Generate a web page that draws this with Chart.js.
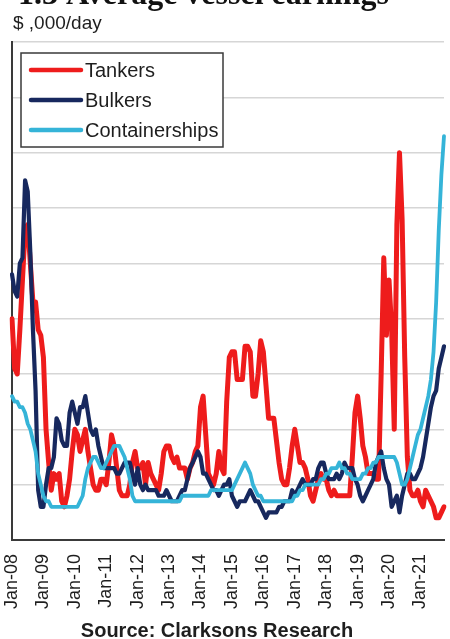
<!DOCTYPE html>
<html>
<head>
<meta charset="utf-8">
<script src="https://cdn.jsdelivr.net/npm/chart.js@4.4.1/dist/chart.umd.min.js"></script>
<style>
  html, body { margin: 0; padding: 0; background: #ffffff; }
  #wrap { position: relative; width: 450px; height: 639px; }
</style>
</head>
<body>
<div id="wrap"><canvas id="c" width="450" height="639"></canvas></div>
<script>
// Monthly average earnings, $ ,000/day, Jan 2008 onwards
const startYear = 2008;
const monthNames = ['Jan','Feb','Mar','Apr','May','Jun','Jul','Aug','Sep','Oct','Nov','Dec'];
const yearTicks = ['Jan-08','Jan-09','Jan-10','Jan-11','Jan-12','Jan-13','Jan-14','Jan-15','Jan-16','Jan-17','Jan-18','Jan-19','Jan-20','Jan-21'];

const tankers = [
  40,31,30,38,47,56,57,50,43,43, 38,37,33,20,14,9,12,11,12,7,
  6,8,11,16,20,19,16,18,20,16, 13,10,9,9,11,11,10,14,19,17,
  13,9,8,8,8,10,14,16,13,13, 14,10,14,12,11,10,9,12,16,17,
  17,15,14,15,13,13,13,11,13,14, 16,17,24,26,19,12,11,10,12,16,
  13,12,25,33,34,34,29,29,29,35, 35,34,26,26,30,36,34,28,22,22,
  22,18,14,11,10,10,13,17,20,17, 14,14,13,11,8,7,9,11,12,11,
  11,9,8,9,8,8,8,8,8,8, 15,23,26,22,17,15,12,12,12,11,
  11,30,51,37,47,38,20,57,70,58, 33,15,9,8,8,9,7,6,9,8,
  7,6,4,4,5,6
];
const bulkers = [
  48,45,44,50,51,65,63,52,38,27, 9,6,6,10,13,13,15,22,21,18,
  17,17,23,25,23,21,24,24,26,23, 20,19,20,17,15,13,13,13,13,13,
  12,12,13,14,14,14,12,10,13,10, 9,10,9,9,9,9,8,8,8,9,
  8,7,7,7,8,9,9,11,13,14, 15,16,15,12,12,11,10,9,9,8,
  9,10,10,11,8,7,6,7,7,7, 8,9,8,7,7,6,5,4,5,5,
  5,5,6,6,7,7,7,9,8,9, 10,11,10,10,10,11,11,13,14,14,
  12,11,11,11,12,11,12,14,13,13, 13,11,10,8,7,8,9,10,11,14,
  15,16,13,11,10,6,7,8,5,8, 10,12,12,11,11,12,13,15,18,21,
  24,26,27,31,33,35
];
const containerships = [
  26,25,25,24,24,23,21,20,18,16, 12,10,8,7,7,6,6,6,6,6,
  6,6,6,6,6,6,7,8,11,13, 14,15,15,14,13,13,14,15,16,17,
  17,17,16,15,13,11,8,7,7,7, 7,7,7,7,7,7,7,7,7,7,
  7,7,7,7,7,8,8,8,8,8, 8,8,8,8,8,8,9,9,9,9,
  9,9,9,9,9,10,11,12,13,14, 13,12,10,9,8,8,7,7,7,7,
  7,7,7,7,7,7,7,7,8,8, 9,9,10,10,10,10,10,10,11,11,
  12,12,13,13,13,14,13,13,12,12, 11,11,11,11,12,12,13,13,14,14,
  15,15,15,15,15,15,15,14,12,10, 10,11,13,15,17,19,20,22,24,26,
  29,34,43,56,66,73
];

// Month labels for the category axis
const months = tankers.map((_, i) =>
  monthNames[i % 12] + '-' + String((startYear + Math.floor(i / 12)) % 100).padStart(2, '0'));

const SANS = '"Liberation Sans", Arial, Helvetica, sans-serif';
const SERIF = '"Liberation Serif", "Times New Roman", serif';

// Boxed legend in the upper-left corner of the plot, plus heading and source lines
const decorations = {
  id: 'decorations',
  afterDatasetsDraw(chart) {
    const { ctx, chartArea } = chart;
    const x0 = chartArea.left + 9, y0 = chartArea.top + 11, w = 202, h = 94;
    ctx.save();
    ctx.fillStyle = '#ffffff';
    ctx.fillRect(x0, y0, w, h);
    ctx.strokeStyle = '#3a3a3a';
    ctx.lineWidth = 1.5;
    ctx.strokeRect(x0, y0, w, h);
    chart.data.datasets.forEach((ds, i) => {
      const y = y0 + 17 + i * 30;
      ctx.strokeStyle = ds.borderColor;
      ctx.lineWidth = 4.5;
      ctx.lineCap = 'round';
      ctx.beginPath();
      ctx.moveTo(x0 + 10, y);
      ctx.lineTo(x0 + 60, y);
      ctx.stroke();
      ctx.fillStyle = '#1e1e1e';
      ctx.font = '20px ' + SANS;
      ctx.textBaseline = 'middle';
      ctx.textAlign = 'left';
      ctx.fillText(ds.label, x0 + 64, y + 1);
    });
    ctx.restore();
  },
  afterDraw(chart) {
    const { ctx } = chart;
    ctx.save();
    ctx.fillStyle = '#111111';
    ctx.textBaseline = 'alphabetic';
    ctx.textAlign = 'left';
    ctx.font = 'bold 32px ' + SERIF;
    ctx.fillText('1.3 Average vessel earnings', 18, 4);
    ctx.fillStyle = '#1e1e1e';
    ctx.font = '19px ' + SANS;
    ctx.fillText('$ ,000/day', 13, 29);
    ctx.textAlign = 'center';
    ctx.font = 'bold 20px ' + SANS;
    ctx.fillText('Source: Clarksons Research', 217, 637);
    ctx.restore();
  }
};

new Chart(document.getElementById('c'), {
  type: 'line',
  data: {
    labels: months,
    datasets: [
      { label: 'Tankers', data: tankers, borderColor: '#ee1c1c', borderWidth: 5, order: 3 },
      { label: 'Bulkers', data: bulkers, borderColor: '#17285e', borderWidth: 4.2, order: 2 },
      { label: 'Containerships', data: containerships, borderColor: '#35b4d8', borderWidth: 3.8, order: 1 }
    ]
  },
  options: {
    responsive: false,
    devicePixelRatio: 1,
    animation: false,
    layout: { padding: { top: 42, right: 6, bottom: 0, left: 0 } },
    elements: {
      point: { radius: 0 },
      line: { tension: 0, borderJoinStyle: 'round', borderCapStyle: 'round' }
    },
    plugins: { legend: { display: false }, tooltip: { enabled: false } },
    scales: {
      x: {
        type: 'category',
        grid: { display: false, drawTicks: false },
        border: { display: true, color: '#3a3a3a', width: 2 },
        afterFit(scale) {
          scale.height = 99;
          scale.paddingLeft = 0;
          scale.paddingRight = 0;
        },
        ticks: {
          autoSkip: false,
          minRotation: 90,
          maxRotation: 90,
          padding: 14,
          color: '#1e1e1e',
          font: { size: 18, family: SANS },
          callback(value, index) {
            const lab = months[index];
            return yearTicks.includes(lab) ? lab : null;
          }
        }
      },
      y: {
        min: 0,
        max: 90,
        grid: { color: '#d6d6d6', lineWidth: 1.5, drawTicks: false },
        border: { display: true, color: '#3a3a3a', width: 2 },
        afterFit(scale) { scale.width = 12; },
        ticks: { display: false, stepSize: 10 }
      }
    }
  },
  plugins: [decorations]
});
</script>
</body>
</html>
